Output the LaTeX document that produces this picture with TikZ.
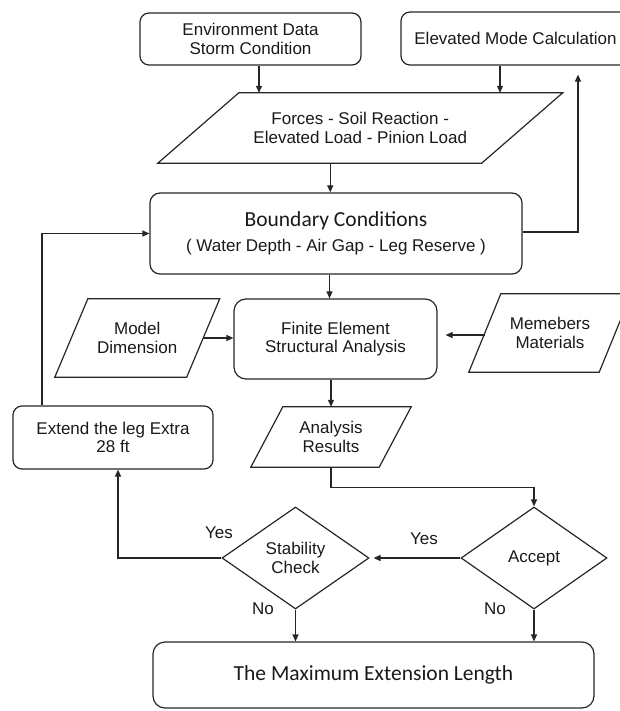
\documentclass[tikz,border=0pt]{standalone}
\usepackage{fontspec}
\setmainfont{Liberation Sans}
\newfontfamily\calib{Carlito}
\usetikzlibrary{shapes.geometric,arrows.meta,calc}
\newcommand{\parashape}[2]{%
  \draw[lin] ($(#1.north west)+(#2,0)$) -- ($(#1.north east)+(#2,0)$) -- ($(#1.south east)-(#2,0)$) -- ($(#1.south west)-(#2,0)$) -- cycle;}
\tikzset{
  lin/.style={draw=black!85, line width=1.2pt},
  txt/.style={text=black!90, font=\fontsize{17}{18.5}\selectfont},
  box/.style={lin, txt, rounded corners=9pt, inner sep=0pt, align=center},
  ptext/.style={txt, inner sep=0pt, align=center},
  dia/.style={lin, txt, diamond, inner sep=0pt, align=center},
  arr/.style={lin, -{Triangle[length=7pt,width=6pt]}},
  lbl/.style={txt, inner sep=0pt},
}
\begin{document}
\begin{tikzpicture}[x=1pt,y=-1pt]
\useasboundingbox (0,0) rectangle (619,711);
% nodes
\node[box, minimum width=221pt, minimum height=52pt] (env) at (250.5,39) {Environment Data\\Storm Condition};
\node[box, minimum width=229pt, minimum height=53pt] (elev) at (515.5,38.5) {Elevated Mode Calculation};
\node[ptext, minimum width=323.5pt, minimum height=70pt] (forces) at (360.25,128) {Forces - Soil Reaction -\\Elevated Load - Pinion Load};
\parashape{forces}{40.5}
\node[box, rounded corners=10pt, minimum width=372pt, minimum height=81pt] (bc) at (336,233.5) {{\calib\fontsize{21.5}{22}\selectfont Boundary Conditions}\\[7pt]( Water Depth - Air Gap - Leg Reserve )};
\node[box, rounded corners=12pt, minimum width=203pt, minimum height=80pt] (fe) at (335.5,339) {Finite Element\\Structural Analysis};
\node[ptext, minimum width=131.5pt, minimum height=78pt] (model) at (137.25,338) {Model\\Dimension};
\parashape{model}{16.5}
\node[ptext, minimum width=130pt, minimum height=78pt] (mem) at (550,333) {Memebers\\Materials};
\parashape{mem}{16}
\node[box, minimum width=200pt, minimum height=63pt] (ext) at (113,437.5) {Extend the leg Extra\\28 ft};
\node[ptext, minimum width=128pt, minimum height=60pt] (ana) at (331,437) {Analysis\\Results};
\parashape{ana}{16}
\node[dia, minimum width=147pt, minimum height=102pt] (stab) at (295.5,558) {Stability\\Check};
\node[dia, minimum width=146pt, minimum height=102pt] (acc) at (534,558) {Accept};
\node[box, rounded corners=12pt, minimum width=441pt, minimum height=66pt, font=\calib\fontsize{21.5}{22}\selectfont] (max) at (373.5,675) {The Maximum Extension Length};
% labels
\node[lbl] (yes1) at (219,533) {Yes};
\node[lbl] (yes2) at (424,539) {Yes};
\node[lbl] (no1) at (263,609) {No};
\node[lbl] (no2) at (495,609) {No};
% connectors
\draw[arr] ([xshift=8.5pt]env.south) -- ([xshift=8.5pt]env.south |- forces.north);
\draw[arr] ([xshift=-15.5pt]elev.south) -- ([xshift=-15.5pt]elev.south |- forces.north);
\draw[arr] ([xshift=-30pt]forces.south) -- ([xshift=-30pt]forces.south |- bc.north);
\draw[arr] ([xshift=-6.5pt]bc.south) -- ([xshift=-6.5pt]bc.south |- fe.north);
\draw[arr] (fe.south -| ana.north) -- (ana.north);
\draw[arr] (model.east) -- (model.east -| fe.west);
\draw[arr, shorten >=8pt] ([yshift=-2pt]mem.west) -- ([yshift=-2pt]mem.west -| fe.east);
\draw[arr, shorten >=9pt] ([yshift=1.5pt]bc.east) -| ([xshift=62.5pt]elev.south);
\draw[arr] ([xshift=-71pt]ext.north) |- (bc.west);
\draw[arr] (ana.south) -- ++(0,20) -| (acc.north);
\draw[arr, shorten >=4pt] (acc.west) -- (stab.east);
\draw[arr] (stab.west) -| ([xshift=5pt]ext.south);
\draw[arr] (stab.south) -- (stab.south |- max.north);
\draw[arr] (acc.south) -- (acc.south |- max.north);
\end{tikzpicture}
\end{document}
